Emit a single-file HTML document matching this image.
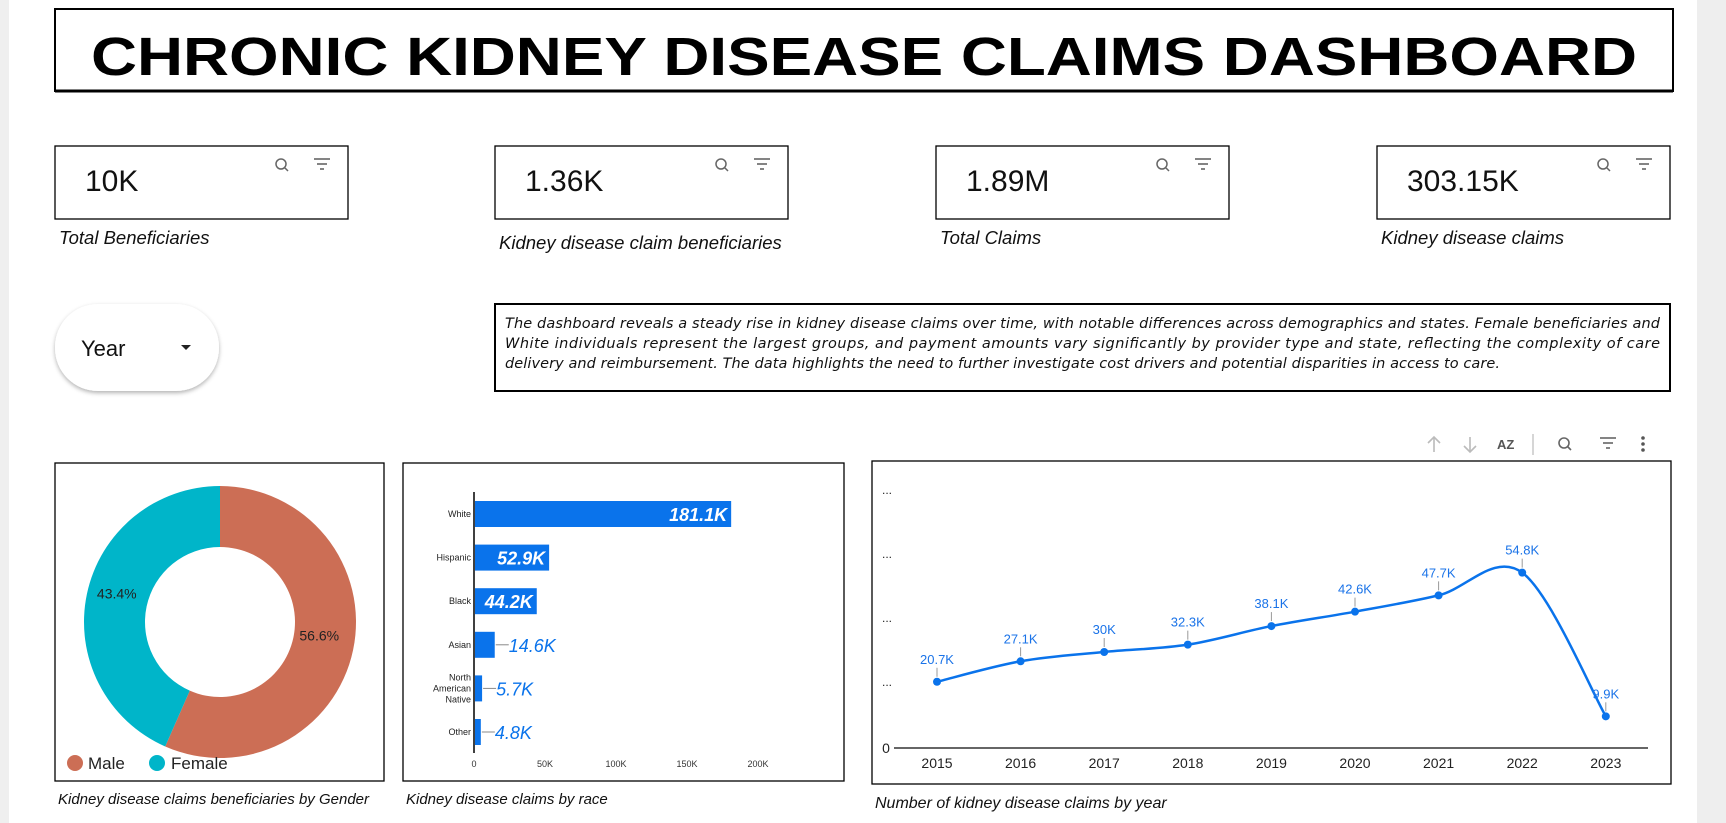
<!DOCTYPE html>
<html><head><meta charset="utf-8"><style>
html,body{margin:0;padding:0;background:#fff;}
svg{display:block;font-family:"Liberation Sans",sans-serif;}
</style></head><body>
<svg id="root" width="1726" height="823" viewBox="0 0 1726 823" xmlns="http://www.w3.org/2000/svg">
<rect x="0" y="0" width="1726" height="823" fill="#fff"/>
<rect x="0" y="0" width="9" height="823" fill="#efefef"/>
<rect x="1697" y="0" width="29" height="823" fill="#eeeeee"/>

<g>
<rect x="55" y="9" width="1618" height="82" fill="#fff" stroke="#000" stroke-width="2"/>
<line x1="55" y1="91" x2="1673" y2="91" stroke="#000" stroke-width="3"/>
<text x="91" y="75" font-size="54" font-weight="bold" textLength="1546" lengthAdjust="spacingAndGlyphs">CHRONIC KIDNEY DISEASE CLAIMS DASHBOARD</text>
</g>

<g id="kpis"></g>

<g>
<defs><filter id="sh" x="-20%" y="-20%" width="140%" height="150%"><feDropShadow dx="0" dy="2" stdDeviation="2" flood-color="#000" flood-opacity="0.3"/></filter></defs>
<rect x="55" y="304" width="164" height="87" rx="43" fill="#fff" filter="url(#sh)"/>
<text x="81" y="356" font-size="22" fill="#111">Year</text>
<path d="M181 345 L191 345 L186 350 Z" fill="#222"/>
</g>

<g>
<rect x="495" y="304" width="1175" height="87" fill="#fff" stroke="#000" stroke-width="2"/>
<text font-size="14.5" font-style="italic" fill="#111" font-family="'DejaVu Sans','Liberation Sans',sans-serif">
<tspan x="505" y="328" textLength="1155" lengthAdjust="spacing">The dashboard reveals a steady rise in kidney disease claims over time, with notable differences across demographics and states. Female beneficiaries and</tspan>
<tspan x="505" y="348" textLength="1155" lengthAdjust="spacing">White individuals represent the largest groups, and payment amounts vary significantly by provider type and state, reflecting the complexity of care</tspan>
<tspan x="505" y="368" textLength="995" lengthAdjust="spacing">delivery and reimbursement. The data highlights the need to further investigate cost drivers and potential disparities in access to care.</tspan>
</text>
</g>

<g fill="none" stroke="#666" stroke-width="1.6">
<g stroke="#bbb"><line x1="1434" y1="437" x2="1434" y2="452"/><path d="M1428 443 L1434 437 L1440 443"/></g>
<g stroke="#bbb"><line x1="1470" y1="437" x2="1470" y2="452"/><path d="M1464 446 L1470 452 L1476 446"/></g>
<text x="1497" y="449" font-size="13" fill="#555" stroke="none" font-weight="bold">AZ</text>
<line x1="1533" y1="434" x2="1533" y2="455" stroke="#ccc"/>
<g><circle cx="1564" cy="443" r="5"/><line x1="1568" y1="447" x2="1571" y2="450"/></g>
<g><line x1="1600" y1="438" x2="1616" y2="438"/><line x1="1603" y1="443" x2="1613" y2="443"/><line x1="1606" y1="448" x2="1610" y2="448"/></g>
<g fill="#555" stroke="none"><circle cx="1643" cy="438" r="1.8"/><circle cx="1643" cy="444" r="1.8"/><circle cx="1643" cy="450" r="1.8"/></g>
</g>

<g>
<rect x="55" y="463" width="329" height="318" fill="#fff" stroke="#000" stroke-width="1.3"/>
<g id="donut"></g>
<g><circle cx="75" cy="763" r="8" fill="#cc6e55"/><text x="88" y="769" font-size="17" fill="#222">Male</text></g>
<g><circle cx="157" cy="763" r="8" fill="#00b5c9"/><text x="171" y="769" font-size="17" fill="#222">Female</text></g>
<text x="58" y="804" font-size="15" font-style="italic" fill="#111">Kidney disease claims beneficiaries by Gender</text>
</g>

<g>
<rect x="403" y="463" width="441" height="318" fill="#fff" stroke="#000" stroke-width="1.3"/>
<g id="race"></g>
<text x="406" y="804" font-size="15" font-style="italic" fill="#111">Kidney disease claims by race</text>
</g>

<g>
<rect x="872" y="461" width="799" height="323" fill="#fff" stroke="#000" stroke-width="1.3"/>
<g id="line"></g>
<text x="875" y="808" font-size="16" font-style="italic" fill="#111">Number of kidney disease claims by year</text>
</g>
</svg>
<script>
const NS='http://www.w3.org/2000/svg';
function mk(p,tag,attrs,txt){const e=document.createElementNS(NS,tag);for(const k in attrs)e.setAttribute(k,attrs[k]);if(txt!==undefined)e.textContent=txt;p.appendChild(e);return e;}

// KPI data
const kpiValues=['10K','1.36K','1.89M','303.15K'];
const kpiLabels=['Total Beneficiaries','Kidney disease claim beneficiaries','Total Claims','Kidney disease claims'];
const kg=document.getElementById('kpis');
const kx=[55,495,936,1377];
kpiValues.forEach((v,i)=>{
  const g=mk(kg,'g',{});
  
  
  mk(g,'rect',{x:kx[i],y:146,width:293,height:73,fill:'#fff',stroke:'#000','stroke-width':1.3});
  const t=mk(g,'text',{x:kx[i]+30,y:191,'font-size':30,fill:'#111'},v);
  
  
  const z=mk(g,'g',{fill:'none',stroke:'#666','stroke-width':1.5});
  
  
  mk(z,'circle',{cx:kx[i]+226,cy:164,r:5});mk(z,'line',{x1:kx[i]+230,y1:168,x2:kx[i]+233,y2:171});
  const f=mk(g,'g',{stroke:'#666','stroke-width':1.6});
  
  
  mk(f,'line',{x1:kx[i]+259,y1:159,x2:kx[i]+275,y2:159});mk(f,'line',{x1:kx[i]+262,y1:164,x2:kx[i]+272,y2:164});mk(f,'line',{x1:kx[i]+265,y1:169,x2:kx[i]+269,y2:169});
  const l=mk(kg,'text',{x:kx[i]+4,y:i===1?249:244,'font-size':18.5,'font-style':'italic',fill:'#111'},kpiLabels[i]);
  
  
});

// Donut data
const genderCats=['Male','Female'];
const genderShares=[56.6,43.4];
const genderColors=['#cc6e55','#00b5c9'];
const dg=document.getElementById('donut');
const cx=220,cy=622,R=136,r=75;
let a0=0;
genderShares.forEach((s,i)=>{
  const a1=a0+s/100*2*Math.PI;
  const p=(a,rad)=>[cx+rad*Math.sin(a),cy-rad*Math.cos(a)];
  const [x0,y0]=p(a0,R),[x1,y1]=p(a1,R),[x2,y2]=p(a1,r),[x3,y3]=p(a0,r);
  const lg=(a1-a0)>Math.PI?1:0;
  const path=mk(dg,'path',{d:`M${x0} ${y0} A${R} ${R} 0 ${lg} 1 ${x1} ${y1} L${x2} ${y2} A${r} ${r} 0 ${lg} 0 ${x3} ${y3} Z`,fill:genderColors[i]});
  
  
  const am=(a0+a1)/2;const [lx,ly]=p(am,(R+r)/2);
  const t=mk(dg,'text',{x:lx+(i===0?-4:0),y:ly+(i===0?-3:-2),'font-size':14,fill:'#222','text-anchor':'middle'},s.toFixed(1)+'%');
  
  
  a0=a1;
});

// Race bar data
const raceCats=[['White'],['Hispanic'],['Black'],['Asian'],['North','American','Native'],['Other']];
const raceValues=[181.1,52.9,44.2,14.6,5.7,4.8];
const raceTicks=[0,50,100,150,200];
const rg=document.getElementById('race');
const bx0=474,bScale=284/200;const X=v=>bx0+v*bScale;
const rowY=i=>514+i*43.6;
mk(rg,'line',{x1:bx0,y1:492,x2:bx0,y2:753,stroke:'#000','stroke-width':1.5});
raceTicks.forEach(t=>{const e=mk(rg,'text',{x:X(t),y:767,'font-size':9,fill:'#333','text-anchor':'middle'},t===0?'0':t+'K');
  
  });
raceValues.forEach((v,i)=>{
  const y=rowY(i);
  const b=mk(rg,'rect',{x:bx0+1,y:y-13,width:X(v)-bx0-1,height:26,fill:'#0a73eb'});
  
  
  const lines=raceCats[i];
  lines.forEach((ln,j)=>{const e=mk(rg,'text',{x:471,y:y+3+(j-(lines.length-1)/2)*11,'font-size':9,fill:'#222','text-anchor':'end'},ln);
    
    });
  const lbl=v+'K';
  const w=X(v)-bx0;
  let e;
  if(w>50){e=mk(rg,'text',{x:X(v)-4,y:y+7,'font-size':18,'font-style':'italic','font-weight':'bold',fill:'#fff','text-anchor':'end'},lbl);}
  else{mk(rg,'line',{x1:X(v)+1,y1:y,x2:X(v)+14,y2:y,stroke:'#888'});
    e=mk(rg,'text',{x:X(v)+14,y:y+7,'font-size':18,'font-style':'italic',fill:'#0a73eb'},lbl);}
  
  
});

// Line chart data
const years=['2015','2016','2017','2018','2019','2020','2021','2022','2023'];
const claimValues=[20.7,27.1,30,32.3,38.1,42.6,47.7,54.8,9.9];
const claimLabels=['20.7K','27.1K','30K','32.3K','38.1K','42.6K','47.7K','54.8K','9.9K'];
const yTicks=[20,40,60,80];
const lg2=document.getElementById('line');
const LX=i=>937+i*83.6;const LY=v=>748-v*(256/80);
mk(lg2,'line',{x1:894,y1:748,x2:1648,y2:748,stroke:'#333','stroke-width':1.5});
const z0=mk(lg2,'text',{x:886,y:753,'font-size':14,fill:'#222','text-anchor':'middle'},'0');


yTicks.forEach(t=>{const e=mk(lg2,'text',{x:887,y:LY(t)+2,'font-size':12,fill:'#222','text-anchor':'middle'},'...');
  
  });
years.forEach((yr,i)=>{const e=mk(lg2,'text',{x:LX(i),y:768,'font-size':14,fill:'#222','text-anchor':'middle'},yr);
  
  });
const pts=claimValues.map((v,i)=>[LX(i),LY(v)]);
let d=`M${pts[0][0]} ${pts[0][1]}`;
for(let i=0;i<pts.length-1;i++){
  const p0=pts[Math.max(0,i-1)],p1=pts[i],p2=pts[i+1],p3=pts[Math.min(pts.length-1,i+2)];
  const tt=6;
  d+=` C${p1[0]+(p2[0]-p0[0])/tt} ${p1[1]+(p2[1]-p0[1])/tt} ${p2[0]-(p3[0]-p1[0])/tt} ${p2[1]-(p3[1]-p1[1])/tt} ${p2[0]} ${p2[1]}`;
}
const line=mk(lg2,'path',{d:d,fill:'none',stroke:'#0a73eb','stroke-width':2.5});


pts.forEach((p,i)=>{
  mk(lg2,'line',{x1:p[0],y1:p[1]-5,x2:p[0],y2:p[1]-14,stroke:'#999'});
  const c=mk(lg2,'circle',{cx:p[0],cy:p[1],r:4,fill:'#0a73eb'});
  
  
  const t=mk(lg2,'text',{x:p[0],y:p[1]-18,'font-size':13,fill:'#1a73e8','text-anchor':'middle'},claimLabels[i]);
  
  
});
</script>
</body></html>
